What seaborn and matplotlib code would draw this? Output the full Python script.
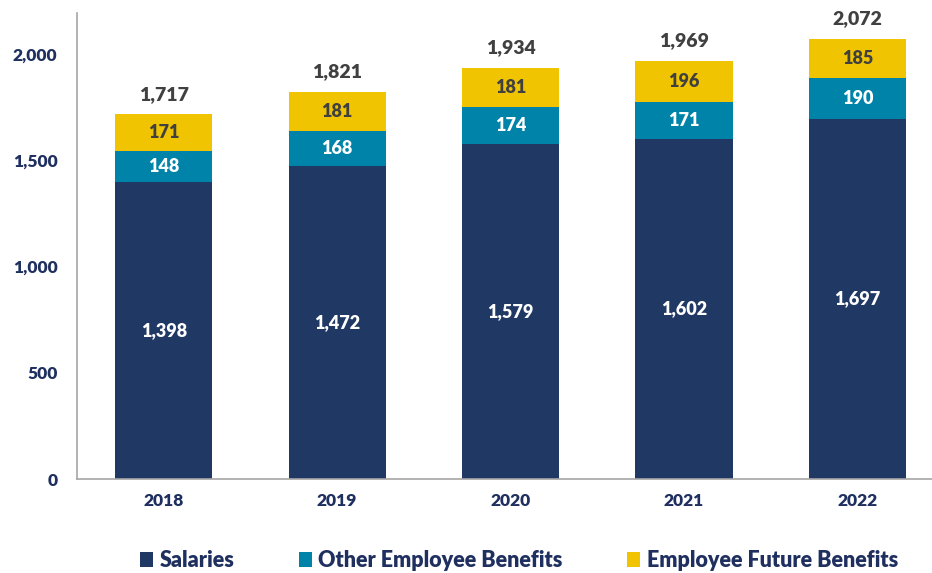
import numpy as np
import pandas as pd
import matplotlib
matplotlib.use('Agg')
import matplotlib.pyplot as plt
import seaborn as sns

YEARS = ['2018', '2019', '2020', '2021', '2022']
SALARIES = [1398, 1472, 1579, 1602, 1697]
OTHER_BENEFITS = [148, 168, 174, 171, 190]
FUTURE_BENEFITS = [171, 181, 181, 196, 185]

SERIES = ['Salaries', 'Other Employee Benefits', 'Employee Future Benefits']
COLORS = ['#203864', '#0083A9', '#F0C400']
LABEL_COLORS = ['white', 'white', '#404040']
NAVY = '#1F3060'

sns.set_style('white')
plt.rcParams['font.family'] = ['Lato', 'DejaVu Sans']

df = pd.DataFrame({'Year': YEARS, SERIES[0]: SALARIES,
                   SERIES[1]: OTHER_BENEFITS, SERIES[2]: FUTURE_BENEFITS})

fig = plt.figure(figsize=(9.32, 5.73), dpi=100)
ax = fig.add_axes([0.0826, 0.164, 0.9174, 0.813])

bottom = np.zeros(len(df))
for name, color, lcol in zip(SERIES, COLORS, LABEL_COLORS):
    vals = df[name].to_numpy(dtype=float)
    sns.barplot(x=df['Year'], y=vals, bottom=bottom, color=color, width=0.56,
                label=name, ax=ax, saturation=1, linewidth=0, edgecolor=color)
    for i, v in enumerate(vals):
        ax.text(i, bottom[i] + v / 2, f'{int(v):,}', ha='center', va='center',
                color=lcol, fontsize=13, fontweight='heavy')
    bottom += vals

for i, tot in enumerate(bottom):
    ax.text(i, tot + 95, f'{int(tot):,}', ha='center', va='center',
            color='#404040', fontsize=14, fontweight='heavy')

ax.set_ylim(0, 2193)
ax.set_xlim(-0.5, 4.43)
ax.set_yticks([0, 500, 1000, 1500, 2000])
ax.yaxis.set_major_formatter(plt.FuncFormatter(lambda x, _: f'{int(x):,}'))
ax.tick_params(axis='both', length=0, labelsize=12.5, labelcolor=NAVY, pad=14)
ax.tick_params(axis='x', pad=10)
for lab in ax.get_xticklabels() + ax.get_yticklabels():
    lab.set_fontweight('heavy')
ax.set_xlabel('')
ax.set_ylabel('')
for side in ['top', 'right']:
    ax.spines[side].set_visible(False)
for side in ['left', 'bottom']:
    ax.spines[side].set_color('#A6A6A6')
    ax.spines[side].set_linewidth(1.2)

leg = ax.legend(loc='lower center', bbox_to_anchor=(0.517, -0.24), ncol=3, frameon=False,
                handlelength=0.6, handleheight=0.7, handletextpad=0.3, columnspacing=3.0,
                prop={'size': 15.5, 'weight': 'heavy'})
for t in leg.get_texts():
    t.set_color(NAVY)

fig.savefig('out.png', dpi=100)
